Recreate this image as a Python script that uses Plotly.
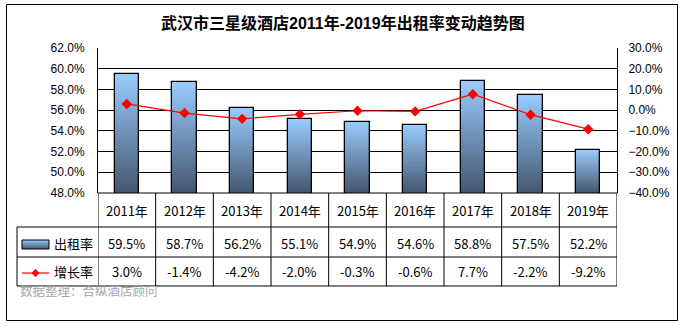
import plotly.graph_objects as go

# ---------------- data ----------------
categories = ['2011年', '2012年', '2013年', '2014年', '2015年', '2016年', '2017年', '2018年', '2019年']
occupancy = [59.5, 58.7, 56.2, 55.1, 54.9, 54.6, 58.8, 57.5, 52.2]      # 出租率 (%)
growth = [3.0, -1.4, -4.2, -2.0, -0.3, -0.6, 7.7, -2.2, -9.2]           # 增长率 (%)
occ_labels = ['59.5%', '58.7%', '56.2%', '55.1%', '54.9%', '54.6%', '58.8%', '57.5%', '52.2%']
gr_labels = ['3.0%', '-1.4%', '-4.2%', '-2.0%', '-0.3%', '-0.6%', '7.7%', '-2.2%', '-9.2%']
series_names = ['出租率', '增长率']
title_text = '武汉市三星级酒店2011年-2019年出租率变动趋势图'
source_text = '数据整理：合纵酒店顾问'

# ---------------- layout geometry (pixels) ----------------
W, H = 684, 326
PL, PR, PT, PB = 98, 617, 48, 193
Y0, Y1 = 48, 62
Y2_0, Y2_1 = -40, 30

def ppx(px):
    return (px - PL) / (PR - PL)

def ppy(py):
    return (PB - py) / (PB - PT)

CJK = 'Noto Sans CJK SC, Microsoft YaHei, sans-serif'
LAT = 'Liberation Sans, Arial, sans-serif'

top_rgb = (153, 204, 255)
bot_rgb = (68, 86, 110)

def mix(t):
    # t=0 -> top colour, t=1 -> bottom colour
    return 'rgb(%d,%d,%d)' % tuple(round(a + (b - a) * t) for a, b in zip(top_rgb, bot_rgb))

xs = list(range(len(categories)))
fig = go.Figure()

N = 40
for k in range(N):
    fig.add_trace(go.Bar(
        x=xs, y=[Y0 + (v - Y0) * (1 - k / N) for v in occupancy],
        width=0.42, marker=dict(color=mix((k + 0.5) / N), line=dict(width=0)),
        hoverinfo='skip', showlegend=False))
# outline
fig.add_trace(go.Bar(
    x=xs, y=occupancy, width=0.42, name=series_names[0],
    marker=dict(color='rgba(0,0,0,0)', line=dict(color='black', width=1.3)),
    showlegend=False))

fig.add_trace(go.Scatter(
    x=xs, y=growth, yaxis='y2', mode='lines+markers', name=series_names[1],
    line=dict(color='#FF0000', width=1.2),
    marker=dict(symbol='diamond', size=8, color='#FF0000'),
    showlegend=False))

shapes = []
line_style = dict(color='black', width=1)

# outer border
shapes.append(dict(type='rect', xref='paper', yref='paper',
                   x0=ppx(6.5), x1=ppx(677.5), y0=ppy(4.5), y1=ppy(320.5),
                   line=dict(color='black', width=1), fillcolor='rgba(0,0,0,0)'))

# table horizontal lines
shapes.append(dict(type='line', xref='paper', yref='paper', x0=ppx(PL), x1=ppx(PR),
                   y0=ppy(193), y1=ppy(193), line=line_style))
for yy in (227, 257, 286):
    shapes.append(dict(type='line', xref='paper', yref='paper', x0=ppx(17), x1=ppx(PR),
                       y0=ppy(yy), y1=ppy(yy), line=line_style))
shapes.append(dict(type='line', xref='paper', yref='paper', x0=ppx(17), x1=ppx(17),
                   y0=ppy(227), y1=ppy(286), line=line_style))
for i in range(len(categories) + 1):
    shapes.append(dict(type='line', xref='x', yref='paper', x0=i - 0.5, x1=i - 0.5,
                       y0=ppy(193), y1=ppy(286), line=line_style))

# legend swatch (gradient bands) for 出租率
sx0, sx1, sy0, sy1 = 22, 49, 240, 249
nb = 9
for b in range(nb):
    shapes.append(dict(type='rect', xref='paper', yref='paper',
                       x0=ppx(sx0), x1=ppx(sx1),
                       y0=ppy(sy0 + (sy1 - sy0) * b / nb), y1=ppy(sy0 + (sy1 - sy0) * (b + 1) / nb),
                       line=dict(width=0), fillcolor=mix((b + 0.5) / nb)))
shapes.append(dict(type='rect', xref='paper', yref='paper',
                   x0=ppx(sx0), x1=ppx(sx1), y0=ppy(sy0), y1=ppy(sy1),
                   line=dict(color='black', width=1), fillcolor='rgba(0,0,0,0)'))
# legend line for 增长率
shapes.append(dict(type='line', xref='paper', yref='paper', x0=ppx(22), x1=ppx(49),
                   y0=ppy(273), y1=ppy(273), line=dict(color='#FF0000', width=1.2)))
cx, cy, d = 35.5, 273, 4
shapes.append(dict(type='path', xref='paper', yref='paper',
                   path='M %f %f L %f %f L %f %f L %f %f Z' % (
                       ppx(cx), ppy(cy - d), ppx(cx + d), ppy(cy),
                       ppx(cx), ppy(cy + d), ppx(cx - d), ppy(cy)),
                   fillcolor='#FF0000', line=dict(width=0)))

annotations = []
annotations.append(dict(text='<b>' + title_text + '</b>', xref='paper', yref='paper',
                        x=ppx(343), y=ppy(23), showarrow=False, xanchor='center', yanchor='middle',
                        font=dict(family=LAT + ', ' + CJK, size=16, color='black')))
for i, c in enumerate(categories):
    annotations.append(dict(text=c, xref='x', yref='paper', x=i, y=ppy(210), showarrow=False,
                            xanchor='center', yanchor='middle', font=dict(family=CJK, size=13, color='black')))
    annotations.append(dict(text=occ_labels[i], xref='x', yref='paper', x=i, y=ppy(243), showarrow=False,
                            xanchor='center', yanchor='middle', font=dict(family=CJK, size=13, color='black')))
    annotations.append(dict(text=gr_labels[i], xref='x', yref='paper', x=i, y=ppy(271), showarrow=False,
                            xanchor='center', yanchor='middle', font=dict(family=CJK, size=13, color='black')))
annotations.append(dict(text=series_names[0], xref='paper', yref='paper', x=ppx(73), y=ppy(243),
                        showarrow=False, xanchor='center', yanchor='middle',
                        font=dict(family=CJK, size=13, color='black')))
annotations.append(dict(text=series_names[1], xref='paper', yref='paper', x=ppx(73), y=ppy(271),
                        showarrow=False, xanchor='center', yanchor='middle',
                        font=dict(family=CJK, size=13, color='black')))
annotations.append(dict(text=source_text, xref='paper', yref='paper', x=ppx(18), y=ppy(290),
                        showarrow=False, xanchor='left', yanchor='middle',
                        font=dict(family=CJK, size=12.5, color='#A6A6A6')))

fig.update_layout(
    width=W, height=H,
    margin=dict(l=PL, r=W - PR, t=PT, b=H - PB, pad=0),
    paper_bgcolor='white', plot_bgcolor='white',
    barmode='overlay', bargap=0,
    showlegend=False,
    xaxis=dict(range=[-0.5, len(categories) - 0.5], showgrid=False, zeroline=False,
               showticklabels=False, ticks='', showline=False, fixedrange=True),
    yaxis=dict(range=[Y0, Y1], dtick=2, tick0=48, tickformat='.1f', ticksuffix='%',
               showgrid=True, gridcolor='black', gridwidth=1, zeroline=False,
               showline=True, linecolor='black', linewidth=1, ticks='', ticklabelstandoff=10,
               tickfont=dict(family=LAT, size=12, color='black')),
    yaxis2=dict(range=[Y2_0, Y2_1], dtick=10, tick0=0, tickformat='.1f', ticksuffix='%',
                overlaying='y', side='right', showgrid=False, zeroline=False,
                showline=True, linecolor='black', linewidth=1, ticks='', ticklabelstandoff=8,
                tickfont=dict(family=LAT, size=12, color='black')),
    shapes=shapes, annotations=annotations,
)

fig.write_html('out.html')
